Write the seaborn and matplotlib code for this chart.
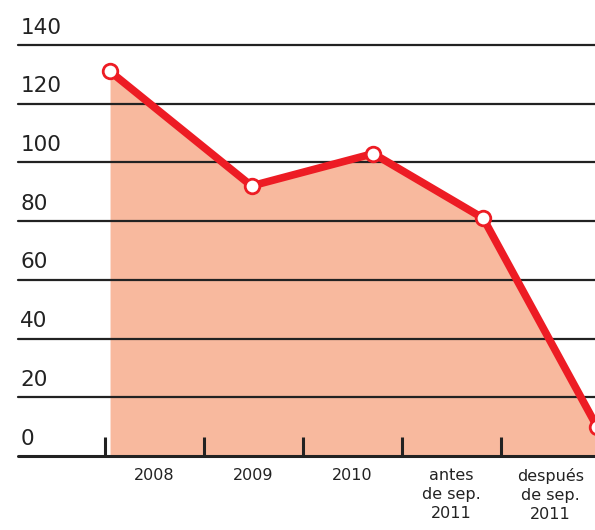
import matplotlib
matplotlib.use("Agg")
import matplotlib.pyplot as plt
import matplotlib.transforms as mtransforms
import pandas as pd
import seaborn as sns

# data
periods = ["2008", "2009", "2010", "antes\nde sep.\n2011", "después\nde sep.\n2011"]
point_pos = [0.05, 1.48, 2.71, 3.82, 4.97]   # where each point sits inside its period band
values = [131, 92, 103, 81, 10]
y_ticks = [0, 20, 40, 60, 80, 100, 120, 140]

RED = "#ED1C24"
FILL = "#F8B99E"
INK = "#222222"

sns.set_theme(style="white")
plt.rcParams["font.family"] = ["DejaVu Sans"]

df = pd.DataFrame({"x": point_pos, "value": values})

fig = plt.figure(figsize=(5.95, 5.30), dpi=100)
ax = fig.add_axes([18 / 595, 74 / 530, 577 / 595, 411 / 530])
ax.set_axisbelow(False)

ax.fill_between(df["x"], df["value"], 0, color=FILL, lw=0, zorder=1)

for v in y_ticks:
    ax.axhline(v, color=INK, lw=2.2 if v == 0 else 1.6, zorder=2, clip_on=False)

sns.lineplot(data=df, x="x", y="value", ax=ax, color=RED, lw=5.5,
             marker="o", markersize=10.5, markerfacecolor="white",
             markeredgecolor=RED, markeredgewidth=2, zorder=3)

ax.set_xlim(-0.88, 4.95)
ax.set_ylim(0, 140)

# y labels above their gridline
trans = mtransforms.blended_transform_factory(ax.transAxes, ax.transData)
for v in y_ticks:
    ax.text(0.004, v + 3.9, str(v), transform=trans, ha="left", va="baseline",
            fontsize=15.5, color=INK)

ax.set_yticks([])
ax.set_xticks(range(5))
ax.set_xticklabels([])
ax.tick_params(axis="x", which="major", direction="in", length=14, width=2.2,
               color=INK, bottom=True)
ax.set_xticks([i + 0.5 for i in range(5)], minor=True)
ax.set_xticklabels(periods, minor=True, fontsize=11.5, color=INK, linespacing=1.3)
ax.tick_params(axis="x", which="minor", length=0, pad=9)

ax.set_xlabel("")
ax.set_ylabel("")
for s in ax.spines.values():
    s.set_visible(False)

fig.savefig("out.png", dpi=100)
